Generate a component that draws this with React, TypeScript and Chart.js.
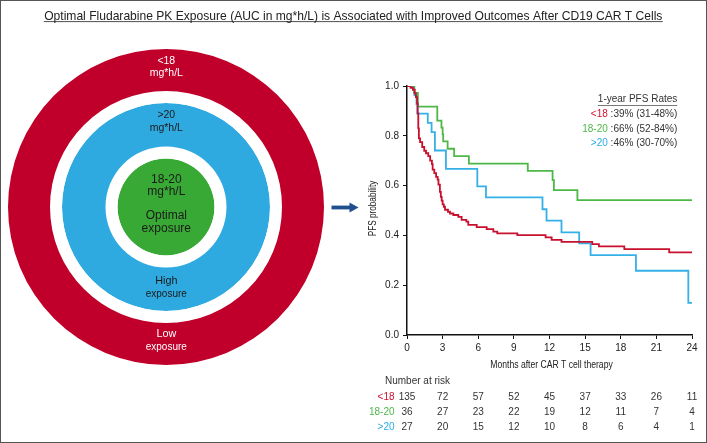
import React, { useEffect, useRef } from 'react';
import { Chart, registerables } from 'chart.js';

Chart.register(...registerables);

const FONT = '"Liberation Sans", Arial, Helvetica, sans-serif';

// ---------------- Data ----------------
const titleText =
  'Optimal Fludarabine PK Exposure (AUC in mg*h/L) is Associated with Improved Outcomes After CD19 CAR T Cells';

const groupLabels = ['<18', '18-20', '>20'];

// Kaplan-Meier steps (months, PFS probability)
const lowTimes = [0, 0.3, 0.5, 0.65, 0.75, 0.85, 0.9, 0.95, 1.0, 1.1, 1.28, 1.45, 1.6, 1.79, 1.95, 2.1, 2.16, 2.3, 2.45, 2.58, 2.65, 2.77, 2.85, 2.92, 3.0, 3.1, 3.2, 3.45, 3.62, 3.9, 4.32, 4.6, 5.0, 5.16, 5.87, 6.71, 7.27, 7.6, 9.29, 11.67, 12.18, 13.01, 15.6, 16.16, 18.3, 22.08, 24];
const lowSurv = [1, 0.993, 0.985, 0.97, 0.955, 0.93, 0.89, 0.83, 0.79, 0.775, 0.755, 0.74, 0.73, 0.718, 0.7, 0.686, 0.664, 0.65, 0.635, 0.624, 0.604, 0.575, 0.555, 0.54, 0.525, 0.515, 0.503, 0.495, 0.488, 0.482, 0.474, 0.462, 0.455, 0.442, 0.433, 0.425, 0.415, 0.408, 0.401, 0.392, 0.382, 0.374, 0.365, 0.356, 0.345, 0.332, 0.332];

const optTimes = [0, 0.6, 0.92, 2.55, 2.9, 3.0, 3.05, 3.42, 3.97, 5.21, 10.17, 12.26, 12.37, 14.35, 24];
const optSurv = [1, 0.972, 0.917, 0.861, 0.833, 0.806, 0.778, 0.748, 0.718, 0.688, 0.659, 0.622, 0.582, 0.542, 0.542];

const highTimes = [0, 0.62, 0.8, 0.87, 1.75, 2.07, 2.35, 3.28, 5.92, 6.65, 11.41, 11.75, 13.01, 14.5, 15.46, 19.28, 23.69, 24];
const highSurv = [1, 0.963, 0.926, 0.889, 0.852, 0.815, 0.741, 0.667, 0.597, 0.553, 0.505, 0.459, 0.412, 0.368, 0.321, 0.258, 0.129, 0.129];

const monthTicks = [0, 3, 6, 9, 12, 15, 18, 21, 24];
const riskLow = [135, 72, 57, 52, 45, 37, 33, 26, 11];
const riskOpt = [36, 27, 23, 22, 19, 12, 11, 7, 4];
const riskHigh = [27, 20, 15, 12, 10, 8, 6, 4, 1];

const pfsRates = [':39% (31-48%)', ':66% (52-84%)', ':46% (30-70%)'];

const ringNames = ['low', 'gapOuter', 'high', 'gapInner', 'optimal'];
const ringLines = [
  ['<18', 'mg*h/L'],
  ['>20', 'mg*h/L'],
  ['18-20', 'mg*h/L', 'Optimal', 'exposure'],
  ['High', 'exposure'],
  ['Low', 'exposure'],
];

// ---------------- Styles ----------------
const lineColors = ['#C8102E', '#4DB848', '#35B0E6'];
const textColors = ['#D0122F', '#4DB848', '#2AABE4'];
const ringColors = ['#C0002A', '#FFFFFF', '#2FAAE1', '#FFFFFF', '#39A935'];
const ringWeights = [42, 12, 43.5, 12, 48.5];

const toPoints = (t: number[], s: number[]) => t.map((x, i) => ({ x, y: s[i] }));

function drawText(
  ctx: CanvasRenderingContext2D,
  text: string,
  x: number,
  y: number,
  size: number,
  color: string,
  align: CanvasTextAlign = 'center',
  scaleX = 1,
  rotate = 0
) {
  ctx.save();
  ctx.translate(x, y);
  if (rotate) ctx.rotate(rotate);
  ctx.scale(scaleX, 1);
  ctx.font = `${size}px ${FONT}`;
  ctx.fillStyle = color;
  ctx.textAlign = align;
  ctx.textBaseline = 'middle';
  ctx.fillText(text, 0, 0);
  ctx.restore();
}

const overlayPlugin = {
  id: 'overlay',
  afterDraw(chart: any) {
    const ctx: CanvasRenderingContext2D = chart.ctx;
    const xs = chart.scales.x;
    const area = chart.chartArea;
    ctx.save();

    // frame
    ctx.strokeStyle = '#555';
    ctx.lineWidth = 1;
    ctx.strokeRect(0.5, 0.5, chart.width - 1, chart.height - 1);

    // title
    ctx.font = `10px ${FONT}`;
    const w10 = ctx.measureText(titleText).width;
    const tSize = (10 * 619) / w10;
    ctx.font = `${tSize}px ${FONT}`;
    ctx.fillStyle = '#222';
    ctx.textAlign = 'center';
    ctx.textBaseline = 'alphabetic';
    ctx.fillText(titleText, 353.3, 19.6);
    ctx.strokeStyle = '#222';
    ctx.lineWidth = 0.8;
    ctx.beginPath();
    ctx.moveTo(353.3 - 309.5, 21.6);
    ctx.lineTo(353.3 + 309.5, 21.6);
    ctx.stroke();

    // arrow
    ctx.fillStyle = '#1F4F8D';
    ctx.fillRect(331.5, 205.6, 19, 3.8);
    ctx.beginPath();
    ctx.moveTo(349.5, 202.6);
    ctx.lineTo(358.5, 207.5);
    ctx.lineTo(349.5, 212.4);
    ctx.closePath();
    ctx.fill();

    // axis titles (condensed)
    drawText(ctx, 'Months after CAR T cell therapy', (area.left + area.right) / 2 + 2, 365, 10.5, '#222', 'center', 0.82);
    drawText(ctx, 'PFS probability', 373.5, (area.top + area.bottom) / 2 - 2, 10, '#222', 'center', 0.82, -Math.PI / 2);

    // legend
    const lx = 677.3;
    ctx.font = `10px ${FONT}`;
    ctx.fillStyle = '#333';
    ctx.textAlign = 'right';
    ctx.textBaseline = 'middle';
    const head = '1-year PFS Rates';
    ctx.fillText(head, lx, 99.5);
    const hw = ctx.measureText(head).width;
    ctx.strokeStyle = '#555';
    ctx.lineWidth = 0.8;
    ctx.beginPath();
    ctx.moveTo(lx - hw, 105.5);
    ctx.lineTo(lx, 105.5);
    ctx.stroke();
    const legY = [114.5, 128.8, 143.2];
    groupLabels.forEach((g, i) => {
      const val = ' ' + pfsRates[i];
      ctx.fillStyle = '#333';
      ctx.textAlign = 'right';
      ctx.fillText(val, lx, legY[i]);
      const vw = ctx.measureText(val).width;
      ctx.fillStyle = textColors[i];
      ctx.fillText(g, lx - vw, legY[i]);
    });

    // number at risk table
    drawText(ctx, 'Number at risk', 385, 381, 10, '#333', 'left');
    const rows = [riskLow, riskOpt, riskHigh];
    const rowY = [397.7, 412.7, 427.7];
    rows.forEach((vals, r) => {
      drawText(ctx, groupLabels[r], 394.5, rowY[r], 10, textColors[r], 'right');
      vals.forEach((v, i) => {
        drawText(ctx, String(v), xs.getPixelForValue(monthTicks[i]), rowY[r], 10, '#333', 'center');
      });
    });

    ctx.restore();
  },
};

const ringTextPlugin = {
  id: 'ringText',
  afterDraw(chart: any) {
    const ctx: CanvasRenderingContext2D = chart.ctx;
    const a = chart.chartArea;
    const cx = (a.left + a.right) / 2 + 0.3;
    const cy = (a.top + a.bottom) / 2;
    const specs = [
      { dy: [-146, -133.5], size: [10.5, 10.5], color: '#FFFFFF' },
      { dy: [-91.8, -79], size: [10.5, 10.5], color: '#1A1A1A' },
      { dy: [-27.8, -15.2], size: [12, 12], color: '#1A1A1A', extra: [9, 21.8] },
      { dy: [74.3, 87.2], size: [10.8, 10], color: '#1A1A1A' },
      { dy: [127.5, 140.5], size: [10.8, 10], color: '#FFFFFF' },
    ];
    ringLines.forEach((lines, k) => {
      const s: any = specs[k];
      const ys = s.extra ? [...s.dy, ...s.extra] : s.dy;
      lines.forEach((t, j) => {
        const size = s.extra ? 12 : s.size[j];
        drawText(ctx, t, cx, cy + ys[j], size, s.color, 'center');
      });
    });
  },
};

export default function App() {
  const lineRef = useRef<HTMLCanvasElement>(null);
  const ringRef = useRef<HTMLCanvasElement>(null);

  useEffect(() => {
    if (!lineRef.current || !ringRef.current) return;
    const sets = [
      [lowTimes, lowSurv],
      [optTimes, optSurv],
      [highTimes, highSurv],
    ];
    const gridCfg = { drawOnChartArea: false, drawTicks: true, tickLength: 4, color: '#111', lineWidth: 1 };
    const borderCfg = { display: true, color: '#111', width: 1.5 };
    const km = new Chart(lineRef.current, {
      type: 'line',
      data: {
        datasets: sets.map(([t, s], i) => ({
          label: groupLabels[i],
          data: toPoints(t, s),
          borderColor: lineColors[i],
          backgroundColor: lineColors[i],
          borderWidth: 1.8,
          stepped: 'before' as const,
          pointRadius: 0,
          fill: false,
        })),
      },
      options: {
        animation: false,
        responsive: true,
        maintainAspectRatio: false,
        events: [],
        layout: { padding: { top: 86, right: 15, left: 0, bottom: 0 } },
        plugins: { legend: { display: false }, tooltip: { enabled: false } },
        scales: {
          x: {
            type: 'linear',
            min: 0,
            max: 24,
            ticks: { stepSize: 3, autoSkip: false, maxRotation: 0, padding: 3, color: '#222', font: { size: 10, family: FONT } },
            grid: gridCfg,
            border: borderCfg,
            afterFit: (s: any) => {
              s.height = 108;
            },
          },
          y: {
            type: 'linear',
            min: 0,
            max: 1,
            ticks: {
              stepSize: 0.2,
              padding: 4,
              color: '#222',
              font: { size: 10, family: FONT },
              callback: (v: any) => Number(v).toFixed(1),
            },
            grid: gridCfg,
            border: borderCfg,
            afterFit: (s: any) => {
              s.width = 407;
            },
          },
        },
      } as any,
      plugins: [overlayPlugin],
    });

    const rings = new Chart(ringRef.current, {
      type: 'doughnut',
      data: {
        labels: ['exposure'],
        datasets: ringNames.map((n, i) => ({
          label: n,
          data: [1],
          backgroundColor: ringColors[i],
          borderWidth: 0,
          hoverOffset: 0,
          offset: 0,
          weight: ringWeights[i],
        })),
      },
      options: {
        animation: false,
        responsive: true,
        maintainAspectRatio: false,
        events: [],
        cutout: 0,
        layout: { padding: { left: 8, top: 49, right: 383, bottom: 78 } },
        plugins: { legend: { display: false }, tooltip: { enabled: false } },
      } as any,
      plugins: [ringTextPlugin],
    });

    return () => {
      km.destroy();
      rings.destroy();
    };
  }, []);

  const box: React.CSSProperties = { position: 'absolute', left: 0, top: 0, width: 707, height: 443 };
  return (
    <div style={{ ...box, background: '#fff' }}>
      <div style={box}>
        <canvas ref={lineRef} />
      </div>
      <div style={box}>
        <canvas ref={ringRef} />
      </div>
    </div>
  );
}
